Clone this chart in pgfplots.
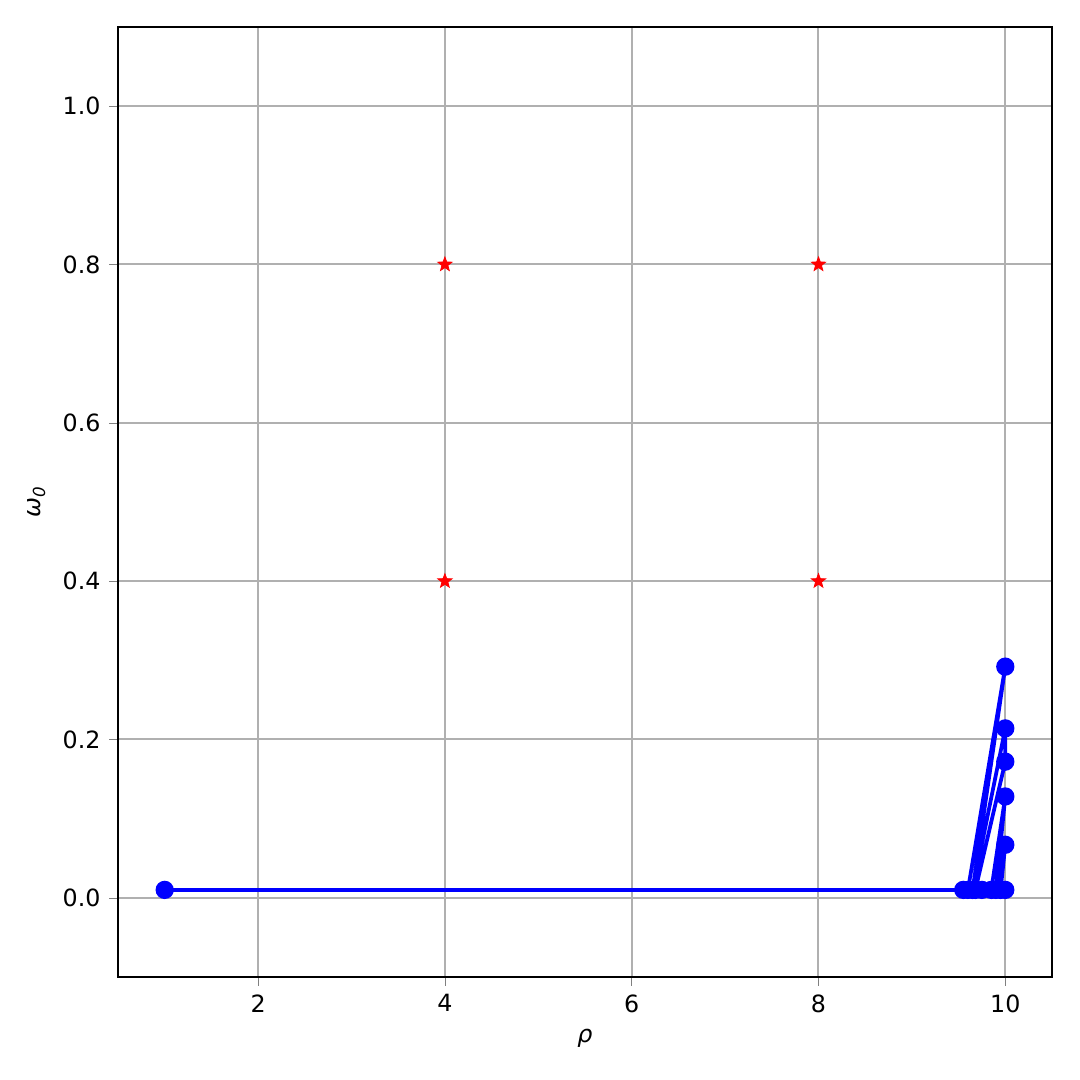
\documentclass[border=0pt]{standalone}
\usepackage{fontspec}
\setmainfont{DejaVu Sans}
\usepackage{pgfplots}
\pgfplotsset{compat=1.18}
\definecolor{gridgray}{HTML}{B0B0B0}

% filled five-pointed star like matplotlib's '*'
\pgfdeclareplotmark{fstar}{%
    \pgfpathmoveto{\pgfqpointpolar{90}{\pgfplotmarksize}}%
    \pgfpathlineto{\pgfqpointpolar{126}{0.42\pgfplotmarksize}}%
    \pgfpathlineto{\pgfqpointpolar{162}{\pgfplotmarksize}}%
    \pgfpathlineto{\pgfqpointpolar{198}{0.42\pgfplotmarksize}}%
    \pgfpathlineto{\pgfqpointpolar{234}{\pgfplotmarksize}}%
    \pgfpathlineto{\pgfqpointpolar{270}{0.42\pgfplotmarksize}}%
    \pgfpathlineto{\pgfqpointpolar{306}{\pgfplotmarksize}}%
    \pgfpathlineto{\pgfqpointpolar{342}{0.42\pgfplotmarksize}}%
    \pgfpathlineto{\pgfqpointpolar{18}{\pgfplotmarksize}}%
    \pgfpathlineto{\pgfqpointpolar{54}{0.42\pgfplotmarksize}}%
    \pgfpathclose
    \pgfusepathqfillstroke
}

\begin{document}
\begin{tikzpicture}
\begin{axis}[
    name=ax,
    scale only axis,
    width=373.6pt, height=380pt,
    xmin=0.5, xmax=10.5,
    ymin=-0.1, ymax=1.1,
    xtick={2,4,6,8,10},
    ytick={0,0.2,0.4,0.6,0.8,1.0},
    yticklabel style={/pgf/number format/fixed, /pgf/number format/fixed zerofill, /pgf/number format/precision=1},
    /pgf/number format/assume math mode=true,
    tick label style={font=\fontsize{9.5}{11}\selectfont},
    tick align=outside,
    tick pos=left,
    major tick length=3.5pt,
    grid=major,
    major grid style={gridgray, line width=0.8pt},
    axis line style={black, line width=0.8pt},
    xlabel={\itshape ρ},
    ylabel={\itshape ω\textsubscript{0}},
    label style={font=\fontsize{9.5}{11}\selectfont},
]
\addplot[blue, line width=1.5pt, mark=*, mark size=2.9pt, mark options={fill=blue}] coordinates {
    (1,0.01) (9.55,0.01) (9.6,0.01) (10,0.292) (9.65,0.01) (10,0.214)
    (10,0.172) (9.68,0.01) (9.75,0.01) (9.85,0.01) (10,0.128) (9.9,0.01)
    (10,0.067) (9.95,0.01) (10,0.01)
};
\addplot[red, only marks, mark=fstar, mark size=3pt, line width=0.3pt, mark options={fill=red}] coordinates {
    (4,0.4) (4,0.8) (8,0.4) (8,0.8)
};
\end{axis}
\path[use as bounding box] ([xshift=-47.2pt, yshift=-41.2pt]ax.south west) rectangle ([xshift=11.2pt, yshift=10.8pt]ax.north east);
\end{tikzpicture}
\end{document}
